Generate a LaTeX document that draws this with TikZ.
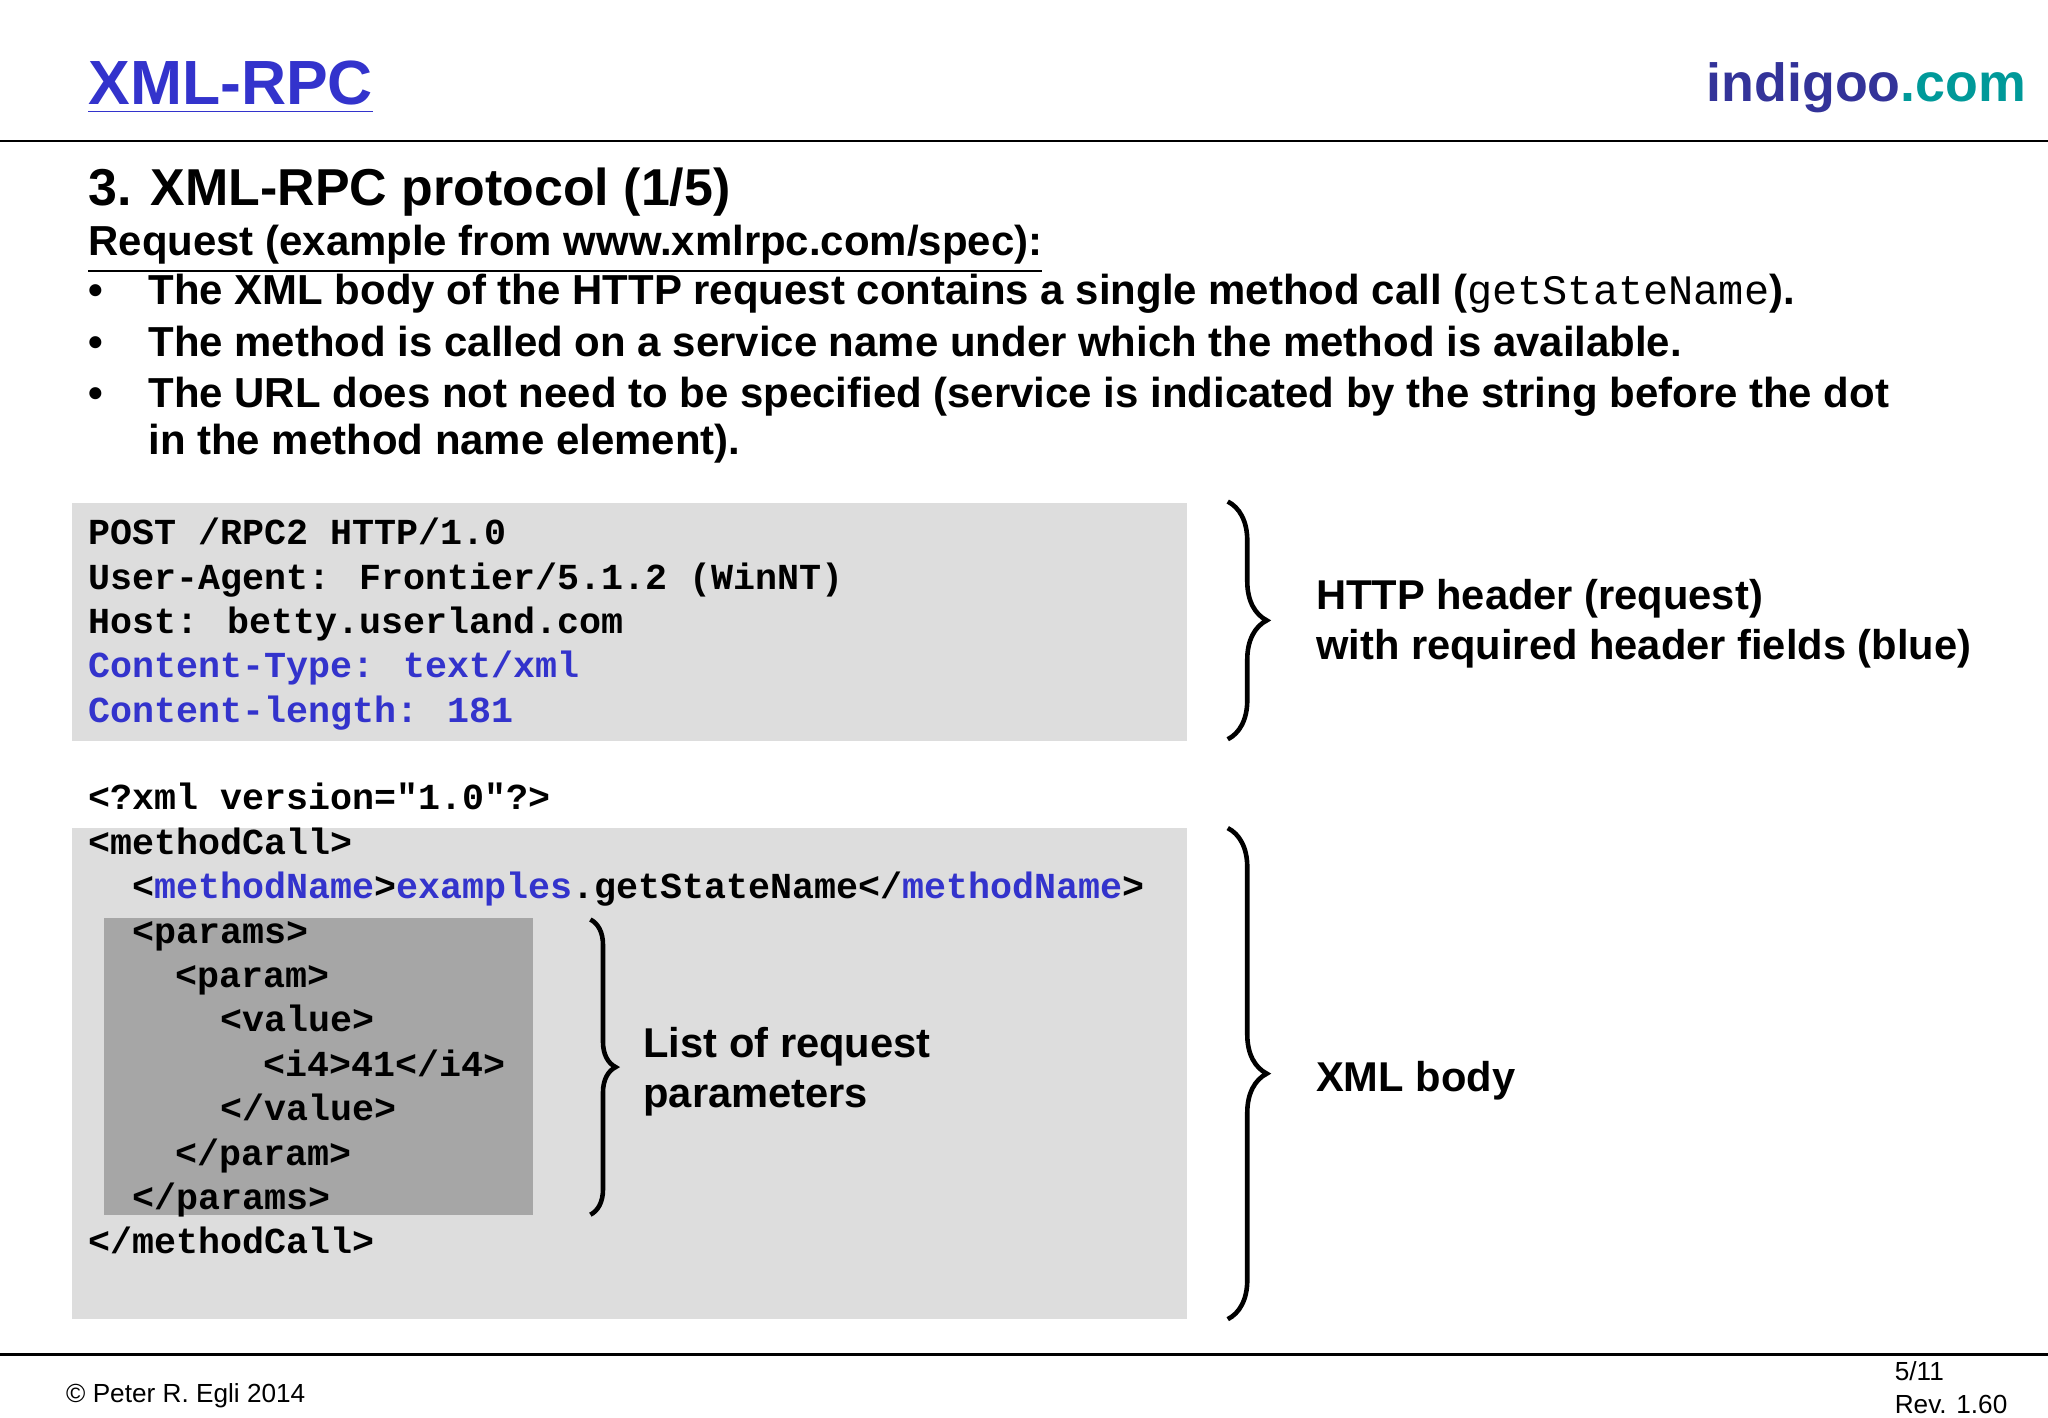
\documentclass[tikz,border=0pt]{standalone}
\usepackage{fontspec}
\setmainfont{Liberation Sans}
\newfontfamily\codefont{Liberation Mono}
\usetikzlibrary{decorations.pathreplacing}
\definecolor{xblue}{HTML}{3333CC}
\definecolor{iblue}{HTML}{333399}
\definecolor{iteal}{HTML}{009999}
\definecolor{box}{HTML}{DDDDDD}
\definecolor{dbox}{HTML}{A6A6A6}
\tikzset{
 t/.style={anchor=base west,inner sep=0pt},
 body/.style={t,font=\fontsize{9.13pt}{11pt}\selectfont\bfseries},
 lab/.style={t,font=\fontsize{9.07pt}{11pt}\selectfont\bfseries},
 code/.style={t,font=\fontsize{7.98pt}{9pt}\selectfont\codefont\bfseries},
 br/.style={decorate,decoration={brace,amplitude=8.5pt,aspect=0.5},line width=1pt},
 sbr/.style={decorate,decoration={brace,amplitude=5.5pt,aspect=0.5},line width=1pt},
}
\begin{document}
\begin{tikzpicture}[x=0.01cm,y=-0.01cm]
\useasboundingbox (0,0) rectangle (1568,1085);
\fill[white] (0,0) rectangle (1568,1085);
\draw[line width=0.6pt] (0,108) -- (1568,108);
\draw[line width=0.6pt] (0,1037) -- (1568,1037);
\node[t,font=\fontsize{13.6pt}{16pt}\selectfont\bfseries,text=xblue] (title) at (67,80) {\underline{XML-RPC}};
\node[t,anchor=base east,font=\fontsize{11.7pt}{14pt}\selectfont\bfseries] (logo) at (1552,78) {\textcolor{iblue}{indigoo}\textcolor{iteal}{.com}};
\node[t,font=\fontsize{11.3pt}{14pt}\selectfont\bfseries] (head) at (67,157) {3. XML-RPC protocol (1/5)};
\node[body] (req) at (67,196) {\underline{Request (example from www.xmlrpc.com/spec):}};
\foreach \y/\n in {233/b1,273/b2,312/b3}{\node[body] (\n) at (67,\y) {•};}
\node[body] (l1) at (113,233) {The XML body of the HTTP request contains a single method call ({\codefont\mdseries getStateName}).};
\node[body] (l2) at (113,273) {The method is called on a service name under which the method is available.};
\node[body] (l3) at (113,312) {The URL does not need to be specified (service is indicated by the string before the dot};
\node[body] (l4) at (113,348) {in the method name element).};
\fill[box] (55,385) rectangle (909,567);
\fill[box] (55,634) rectangle (909,1010);
\fill[dbox] (80,703) rectangle (408,930);
\node[code] (c1) at (67,417) {POST /RPC2 HTTP/1.0};
\node[code] (c2) at (67,451) {User-Agent: Frontier/5.1.2 (WinNT)};
\node[code] (c3) at (67,485) {Host: betty.userland.com};
\node[code,text=xblue] (c4) at (67,519) {Content-Type: text/xml};
\node[code,text=xblue] (c5) at (67,553) {Content-length: 181};
\node[code] (x0) at (67,620) {<?xml version="1.0"?>};
\node[code] (x1) at (67,654) {<methodCall>};
\node[code] (x2) at (101,688) {<\textcolor{xblue}{methodName}>\textcolor{xblue}{examples}.getStateName</\textcolor{xblue}{methodName}>};
\node[code] (x3) at (101,722) {<params>};
\node[code] (x4) at (134,756) {<param>};
\node[code] (x5) at (168,790) {<value>};
\node[code] (x6) at (201,824) {<i4>41</i4>};
\node[code] (x7) at (168,858) {</value>};
\node[code] (x8) at (134,892) {</param>};
\node[code] (x9) at (101,926) {</params>};
\node[code] (x10) at (67,960) {</methodCall>};
\coordinate (h1) at (940,384); \coordinate (h2) at (940,566);
\coordinate (m1) at (940,634); \coordinate (m2) at (940,1010);
\coordinate (p1) at (452,704); \coordinate (p2) at (452,930);
\draw[br] (h1) -- (h2);
\draw[br] (m1) -- (m2);
\draw[sbr] (p1) -- (p2);
\node[lab] (hl1) at (1007,467) {HTTP header (request)};
\node[lab] (hl2) at (1007,505) {with required header fields (blue)};
\node[lab] (xl) at (1007,836) {XML body};
\node[lab] (pl1) at (492,810) {List of request};
\node[lab] (pl2) at (492,848) {parameters};
\node[t,font=\fontsize{5.7pt}{7pt}\selectfont] (f1) at (50,1074) {© Peter R. Egli 2014};
\node[t,font=\fontsize{5.7pt}{7pt}\selectfont] (f2) at (1450,1057) {5/11};
\node[t,font=\fontsize{5.7pt}{7pt}\selectfont] (f3) at (1450,1082) {Rev. 1.60};
\end{tikzpicture}
\end{document}
